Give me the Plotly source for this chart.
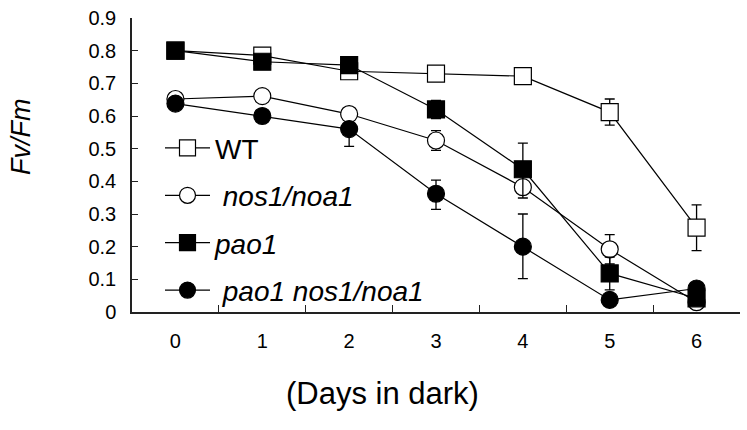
import plotly.graph_objects as go

days = ["0", "1", "2", "3", "4", "5", "6"]
y_ticks = [0, 0.1, 0.2, 0.3, 0.4, 0.5, 0.6, 0.7, 0.8, 0.9]
y_labels = ["0", "0.1", "0.2", "0.3", "0.4", "0.5", "0.6", "0.7", "0.8", "0.9"]

wt = [0.80, 0.785, 0.737, 0.730, 0.722, 0.612, 0.258]
wt_err = [0, 0, 0, 0, 0, 0.04, 0.07]

nos1 = [0.652, 0.661, 0.606, 0.525, 0.382, 0.192, 0.030]
nos1_err = [0, 0, 0, 0.03, 0, 0.045, 0]

pao1 = [0.800, 0.766, 0.756, 0.620, 0.437, 0.118, 0.042]
pao1_err_plus = [0, 0, 0, 0.028, 0.08, 0.05, 0]
pao1_err_minus = [0, 0, 0, 0.028, 0.088, 0.05, 0]

pn = [0.638, 0.600, 0.560, 0.362, 0.200, 0.037, 0.072]
pn_err_plus = [0, 0, 0, 0.042, 0.10, 0, 0]
pn_err_minus = [0, 0, 0.053, 0.048, 0.098, 0, 0]

names = ["WT", "\u00a0<i>nos1/noa1</i>", "<i>pao1</i>", "\u00a0<i>pao1 nos1/noa1</i>"]

FONT = "Liberation Sans, Arial, sans-serif"
LINE = dict(color="black", width=1.2)

W, H = 747, 430
L, T = 132, 13
R = W - 740
B = H - 312
PW, PH = W - L - R, H - T - B

fig = go.Figure()

def add(y, ep, em, name, symbol, fill, grp):
    fig.add_trace(go.Scatter(
        x=days, y=y, name=name, mode="lines+markers",
        legendgroup=grp,
        line=LINE,
        marker=dict(symbol=symbol, size=17, color=fill,
                    line=dict(color="black", width=1.2)),
        error_y=dict(type="data", symmetric=False, array=ep, arrayminus=em,
                     color="black", thickness=1.3, width=5),
    ))

add(wt, wt_err, wt_err, names[0], "square", "white", "a")
add(nos1, nos1_err, nos1_err, names[1], "circle", "white", "b")
add(pao1, pao1_err_plus, pao1_err_minus, names[2], "square", "black", "c")
add(pn, pn_err_plus, pn_err_minus, names[3], "circle", "black", "d")

def px_x(p):
    return (p - L) / PW

def px_y(p):
    return (H - B - p) / PH

fig.update_layout(
    width=W, height=H,
    margin=dict(l=L, r=R, t=T, b=B),
    paper_bgcolor="white", plot_bgcolor="white",
    font=dict(family=FONT, color="black"),
    showlegend=True,
    legend=dict(
        x=px_x(160), y=px_y(120), xanchor="left", yanchor="top",
        font=dict(size=28, family=FONT),
        bgcolor="rgba(0,0,0,0)", borderwidth=0,
        itemwidth=45, tracegroupgap=8,
        traceorder="grouped",
    ),
    xaxis=dict(
        type="category", range=[-0.5, 6.5],
        showline=True, linecolor="#222", linewidth=1.5,
        ticks="inside", ticklen=7, tickwidth=1.2, tickcolor="#222",
        tickson="boundaries",
        showgrid=False, zeroline=False,
        tickfont=dict(size=20, family=FONT),
        ticklabelstandoff=10,
    ),
    yaxis=dict(
        range=[0, 0.9], tickmode="array", tickvals=y_ticks, ticktext=y_labels,
        showline=True, linecolor="#222", linewidth=1.5,
        ticks="inside", ticklen=6, tickwidth=1.2, tickcolor="#222",
        showgrid=False, zeroline=False,
        tickfont=dict(size=20, family=FONT),
        ticklabelstandoff=10, ticklabeloverflow="allow",
    ),
    annotations=[
        dict(text="(Days in dark)", xref="paper", yref="paper",
             x=px_x(382), y=px_y(395),
             xanchor="center", yanchor="middle", showarrow=False,
             font=dict(size=31, family=FONT)),
        dict(text="<i>Fv/Fm</i>", xref="paper", yref="paper",
             x=px_x(21), y=px_y(134), borderpad=0,
             xanchor="center", yanchor="middle", showarrow=False,
             textangle=-90, font=dict(size=27, family=FONT)),
    ],
)

fig.write_html(
    "out.html",
    config={"displayModeBar": False},
    post_script="document.body.style.margin='0';document.body.style.overflow='hidden';",
)
